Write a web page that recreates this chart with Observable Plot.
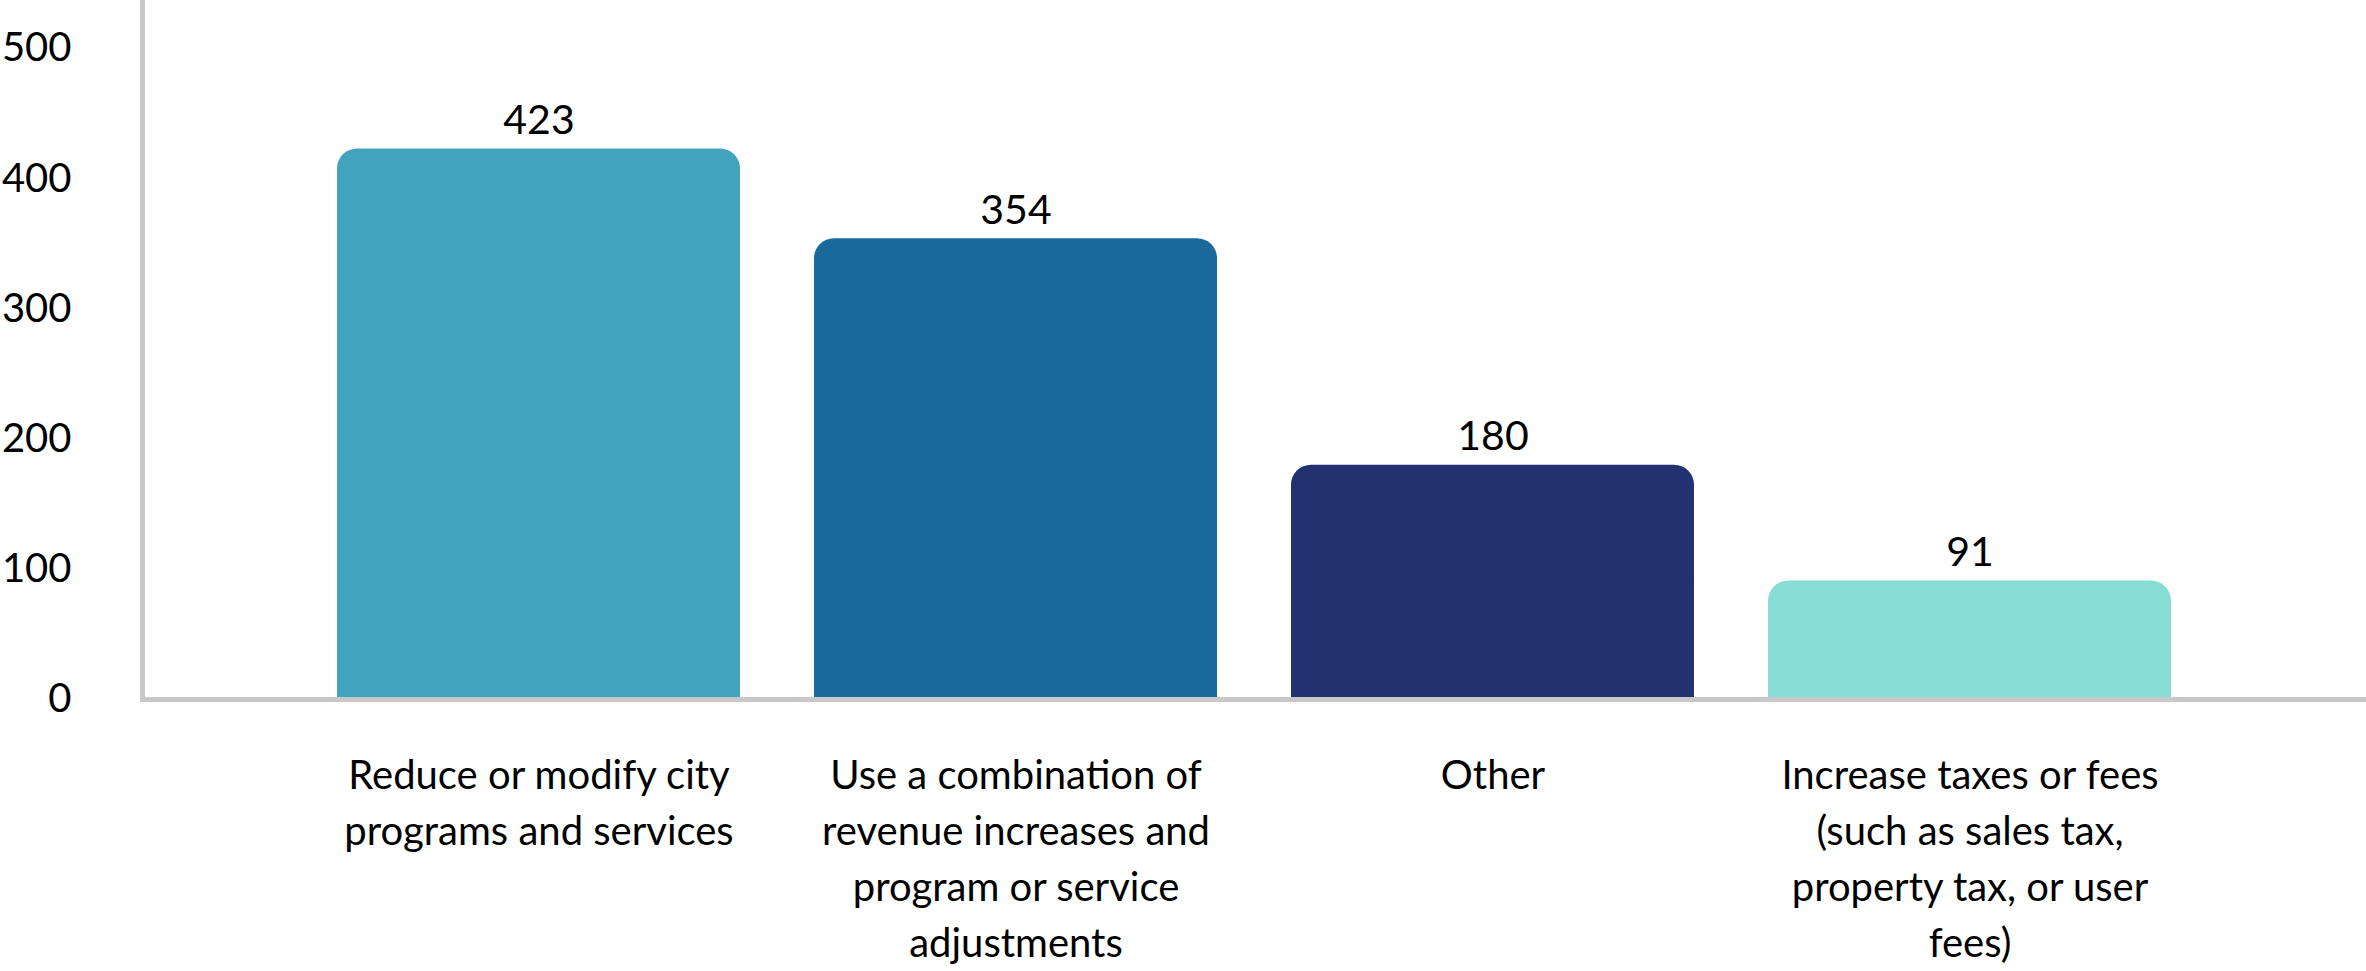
<!DOCTYPE html>
<html>
<head>
<meta charset="utf-8">
<script src="https://cdn.jsdelivr.net/npm/d3@7"></script>
<script src="https://cdn.jsdelivr.net/npm/@observablehq/plot@0.6"></script>
<style>
  html, body { margin: 0; padding: 0; background: #fff; }
  #chart svg { display: block; }
</style>
</head>
<body>
<div id="chart"></div>
<script>
const categories = [
  "Reduce or modify city\nprograms and services",
  "Use a combination of\nrevenue increases and\nprogram or service\nadjustments",
  "Other",
  "Increase taxes or fees\n(such as sales tax,\nproperty tax, or user\nfees)"
];
const values = [423, 354, 180, 91];
const colors = ["#41a3bc", "#1a6b9c", "#223270", "#87ddd4"];
const yTicks = [0, 100, 200, 300, 400, 500];

const data = categories.map((c, i) => ({category: c, value: values[i], color: colors[i]}));

const font = "Lato, 'Source Sans Pro', sans-serif";

const chart = Plot.plot({
  width: 2366,
  height: 971,
  marginLeft: 142,
  marginRight: 0,
  marginTop: 0,
  marginBottom: 272,
  style: {fontFamily: font, background: "#fff", color: "#000", overflow: "visible"},
  x: {domain: categories, range: [261, 2247], padding: 0.155, axis: null},
  y: {domain: [0, 537], axis: null},
  marks: [
    Plot.barY(data, {x: "category", y: "value", fill: "color", rx: 20}),
    Plot.barY(data, {x: "category", y1: 0, y2: d => d.value / 2, fill: "color"}),
    Plot.frame({anchor: "left", stroke: "#c8c8c8", strokeWidth: 5}),
    Plot.ruleY([0], {stroke: "#c8c8c8", strokeWidth: 5}),
    Plot.axisY({ticks: yTicks, tickSize: 0, tickPadding: 71, fontSize: 40, label: null, tickFormat: d => String(d), color: "#000"}),
    Plot.axisX({tickSize: 0, tickPadding: 50, fontSize: 40, lineHeight: 1.4, label: null, color: "#000"}),
    Plot.text(data, {x: "category", y: "value", text: d => String(d.value), dy: -15, lineAnchor: "bottom", fontSize: 41, fill: "#000"})
  ]
});
document.getElementById("chart").appendChild(chart);
</script>
</body>
</html>
